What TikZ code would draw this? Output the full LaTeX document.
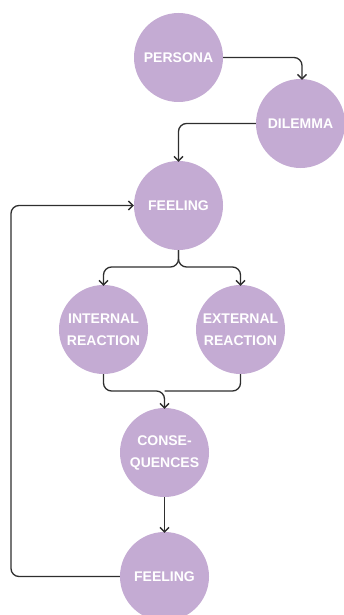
\documentclass[tikz,border=0pt]{standalone}
\usepackage{fontspec}
\setmainfont{Liberation Sans}
\usetikzlibrary{arrows.meta,calc}
\definecolor{circfill}{HTML}{C4ABD3}
\definecolor{linecol}{HTML}{2E2E2E}
\tikzset{
  bubble/.style={circle, fill=circfill, draw=none, minimum size=89pt, inner sep=0pt,
    text=white, font=\fontsize{14}{22}\selectfont\bfseries, align=center},
  conn/.style={draw=linecol, line width=1.3pt, rounded corners=8pt,
    -{Straight Barb[length=4.5pt,width=9pt,line width=1.3pt]}},
  plain/.style={draw=linecol, line width=1.3pt, rounded corners=8pt}
}
\begin{document}
\begin{tikzpicture}[x=1pt,y=-1pt]
\useasboundingbox (0,0) rectangle (343,615);
\node[bubble] (persona) at (178.5,57.5) {PERSONA};
\node[bubble] (dilemma) at (300.5,123.5) {DILEMMA};
\node[bubble] (feel1) at (178.5,205.5) {FEELING};
\node[bubble] (internal) at (103.5,329.5) {INTERNAL\\REACTION};
\node[bubble] (external) at (240.5,329.5) {EXTERNAL\\REACTION};
\node[bubble] (cons) at (164.5,452.5) {CONSE-\\QUENCES};
\node[bubble] (feel2) at (164.5,576.5) {FEELING};
\coordinate (split) at (178.5,267);
\coordinate (merge) at (164.5,391);
\coordinate (loop) at (11,576.5);
\draw[conn] (persona.east) -| ([xshift=1.5pt,yshift=-1pt]dilemma.north);
\draw[conn] (dilemma.west) -| ([yshift=-1pt]feel1.north);
\draw[conn] (feel1.south) -- (split) -| ([yshift=-1pt]internal.north);
\draw[conn] (feel1.south) -- (split) -| ([yshift=-1pt]external.north);
\draw[plain] (external.south) |- (merge);
\draw[conn] (internal.south) |- (merge) -- ([yshift=-1pt]cons.north);
\draw[conn] (cons.south) -- ([yshift=-1pt]feel2.north);
\draw[conn] (feel2.west) -- (loop) |- (feel1.west);
\end{tikzpicture}
\end{document}
